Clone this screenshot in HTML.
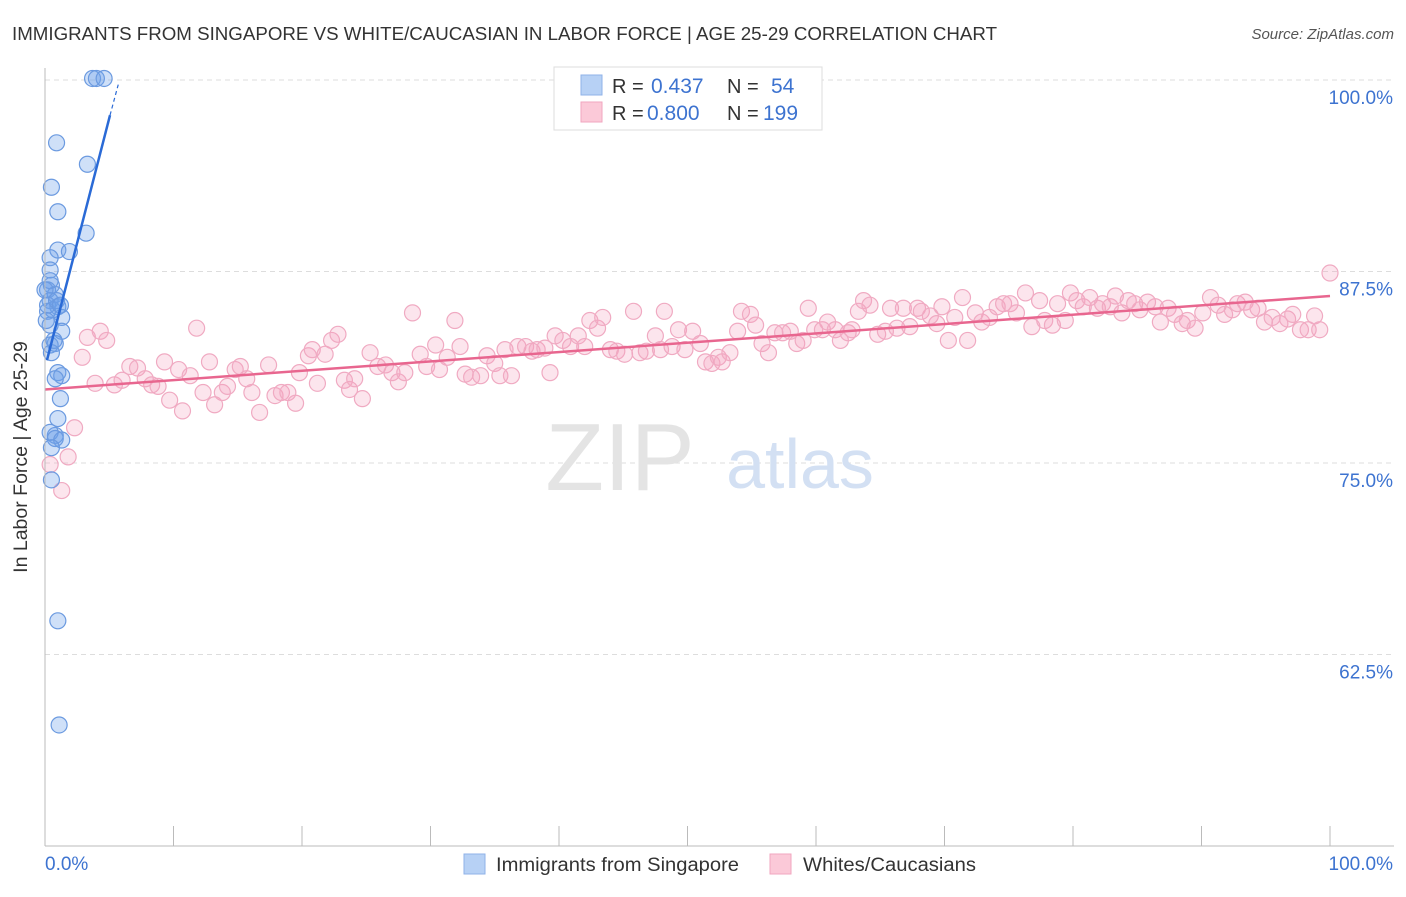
<!DOCTYPE html>
<html><head><meta charset="utf-8"><style>
body{margin:0;background:#fff;font-family:"Liberation Sans",sans-serif}
svg text{font-family:"Liberation Sans",sans-serif}
</style></head><body>
<svg width="1406" height="892" xmlns="http://www.w3.org/2000/svg">
<text x="12" y="40" font-size="18" fill="#333" textLength="985" lengthAdjust="spacingAndGlyphs">IMMIGRANTS FROM SINGAPORE VS WHITE/CAUCASIAN IN LABOR FORCE | AGE 25-29 CORRELATION CHART</text>
<text x="1394" y="39" font-size="15" fill="#555" font-style="italic" text-anchor="end">Source: ZipAtlas.com</text>
<g id="grid"></g>
<text x="620" y="490" font-size="96" fill="#e4e4e4" font-family="Liberation Serif" text-anchor="middle">ZIP</text>
<text x="800" y="488" font-size="70" fill="#d3e0f3" text-anchor="middle">atlas</text>
<g id="pink"></g><g id="blue"></g><g id="trend"></g>
<line x1="45" y1="68" x2="45" y2="846" stroke="#bbb"/>
<line x1="45" y1="846" x2="1394" y2="846" stroke="#bbb"/>
<text x="27" y="457" font-size="19.5" fill="#333" text-anchor="middle" transform="rotate(-90 27 457)">In Labor Force | Age 25-29</text>
<text x="45" y="870" font-size="19" fill="#3d73d0">0.0%</text>
<text x="1393" y="870" font-size="19" fill="#3d73d0" text-anchor="end">100.0%</text>
<g>
<rect x="554" y="67" width="268" height="63" fill="#fff" stroke="#ddd"/>
<rect x="581" y="75" width="21" height="20" fill="#b7d1f5" stroke="#8fb2e8"/>
<rect x="581" y="102" width="21" height="20" fill="#fbc9d8" stroke="#f0a6bf"/>
<text x="612" y="93" font-size="20" fill="#333">R = </text><text x="651" y="93" font-size="21" fill="#3d73d0">0.437</text>
<text x="727" y="93" font-size="20" fill="#333">N = </text><text x="771" y="93" font-size="21" fill="#3d73d0">54</text>
<text x="612" y="120" font-size="20" fill="#333">R = </text><text x="647" y="120" font-size="21" fill="#3d73d0">0.800</text>
<text x="727" y="120" font-size="20" fill="#333">N = </text><text x="763" y="120" font-size="21" fill="#3d73d0">199</text>
</g>
<g>
<rect x="464" y="854" width="21" height="20" fill="#b7d1f5" stroke="#8fb2e8"/>
<text x="496" y="871" font-size="19.7" fill="#333" textLength="243" lengthAdjust="spacingAndGlyphs">Immigrants from Singapore</text>
<rect x="770" y="854" width="21" height="20" fill="#fbc9d8" stroke="#f0a6bf"/>
<text x="803" y="871" font-size="19.7" fill="#333" textLength="173" lengthAdjust="spacingAndGlyphs">Whites/Caucasians</text>
</g>
</svg>
<script>
const yTicks=[100,87.5,75,62.5];
const yTickLabels=["100.0%","87.5%","75.0%","62.5%"];
const xTicks=[0,10,20,30,40,50,60,70,80,90,100];
const blueX=[3.7,4.0,4.6,0.9,3.3,0.5,1.0,3.2,1.0,1.9,0.4,0.4,0.5,0.2,0.8,0.4,1.0,0.2,1.3,0.4,1.3,0.8,0.4,0.5,1.0,1.3,0.8,1.2,1.0,0.8,0.4,0.8,1.3,0.5,0.5,1.0,1.1,0.2,0.6,0.1,0.4,0.9,1.2,0,0.7];
const blueY=[100.1,100.1,100.1,95.9,94.5,93.0,91.4,90.0,88.9,88.8,88.4,87.6,86.6,86.3,86.0,85.6,85.2,84.9,84.5,84.0,83.6,82.8,82.7,82.2,80.9,80.7,80.5,79.2,77.9,76.8,77.0,76.6,76.5,76.0,73.9,64.7,57.9,85.3,85.0,84.3,86.9,85.6,85.3,86.3,83.0];
const pinkX=[0.4,1.3,1.8,2.3,2.9,3.3,3.9,4.3,4.8,5.4,6.0,6.6,7.2,7.8,8.3,8.8,9.3,9.7,10.4,10.7,11.3,11.8,12.3,12.8,13.2,13.8,14.2,14.8,15.2,15.7,16.1,16.7,17.4,17.9,18.4,18.9,19.5,19.8,20.5,20.8,21.2,21.8,22.3,22.8,23.3,23.7,24.1,24.7,25.3,25.9,26.5,27.0,27.5,28.0,28.6,29.2,29.7,30.4,30.7,31.3,31.9,32.3,32.7,33.2,33.9,34.4,35.0,35.4,35.8,36.3,36.8,37.4,37.9,38.3,38.9,39.3,39.7,40.3,40.9,41.5,42.0,42.4,43.0,43.4,44.0,44.5,45.1,45.8,46.3,46.8,47.5,47.9,48.2,48.8,49.3,49.8,50.4,51.0,51.4,51.9,52.4,52.7,53.3,53.9,54.2,54.9,55.3,55.8,56.3,56.8,57.4,58.0,58.5,59.0,59.4,59.9,60.5,60.9,61.5,61.9,62.5,62.8,63.3,63.7,64.2,64.8,65.4,65.8,66.3,66.8,67.3,67.9,68.2,68.9,69.4,69.8,70.3,70.8,71.4,71.8,72.4,72.9,73.5,74.1,74.6,75.1,75.6,76.3,76.8,77.4,77.8,78.4,78.8,79.4,79.8,80.3,80.8,81.3,81.9,82.3,82.9,83.3,83.8,84.3,84.8,85.2,85.8,86.4,86.8,87.4,87.9,88.5,88.9,89.5,90.1,90.7,91.3,91.8,92.4,92.8,93.4,93.9,94.4,94.9,95.5,96.1,96.7,97.1,97.7,98.3,98.8,99.2,100];
const pinkY=[74.9,73.2,75.4,77.3,81.9,83.2,80.2,83.6,83.0,80.1,80.4,81.3,81.2,80.5,80.1,80.0,81.6,79.1,81.1,78.4,80.7,83.8,79.6,81.6,78.8,79.6,80.0,81.1,81.3,80.5,79.6,78.3,81.4,79.4,79.6,79.6,78.9,80.9,82.0,82.4,80.2,82.1,83.0,83.4,80.4,79.8,80.5,79.2,82.2,81.3,81.4,80.9,80.3,80.9,84.8,82.1,81.3,82.7,81.1,81.9,84.3,82.6,80.8,80.6,80.7,82.0,81.5,80.7,82.4,80.7,82.6,82.6,82.3,82.4,82.5,80.9,83.3,83.0,82.6,83.3,82.6,84.3,83.8,84.5,82.4,82.3,82.1,84.9,82.2,82.3,83.3,82.4,84.9,82.6,83.7,82.4,83.6,82.8,81.6,81.5,81.9,81.6,82.2,83.6,84.9,84.7,84.0,82.8,82.2,83.5,83.5,83.6,82.8,83.0,85.1,83.7,83.7,84.2,83.7,83.0,83.5,83.7,84.9,85.6,85.3,83.4,83.6,85.1,83.8,85.1,83.9,85.1,84.9,84.6,84.1,85.2,83.0,84.5,85.8,83.0,84.8,84.2,84.5,85.2,85.4,85.4,84.8,86.1,83.9,85.6,84.3,84.0,85.4,84.3,86.1,85.6,85.2,85.8,85.1,85.4,85.2,85.9,84.8,85.6,85.4,85.0,85.5,85.2,84.2,85.1,84.7,84.1,84.3,83.8,84.8,85.8,85.3,84.7,85.0,85.4,85.5,85.0,85.1,84.2,84.5,84.1,84.4,84.7,83.7,83.7,84.6,83.7,87.4];
const blueTrend=[[0.15,81.7],[5.06,97.7]];
const blueTrendExt=[[5.06,97.7],[5.7,99.7]];
const pinkTrend=[[0,79.8],[100,85.9]];
const NS="http://www.w3.org/2000/svg";
const xs=v=>45+v*12.85;
const ys=v=>80+(100-v)*15.32;
function mk(tag,attrs,parent){const e=document.createElementNS(NS,tag);for(const k in attrs)e.setAttribute(k,attrs[k]);parent.appendChild(e);return e;}
const grid=document.getElementById('grid');
yTicks.forEach((t,i)=>{
 const l=mk('line',{x1:45,x2:1394,y1:ys(t),y2:ys(t),stroke:'#ddd','stroke-dasharray':'5,4'},grid);
 
 
 const tx=mk('text',{x:1393,y:ys(t)+24,'font-size':19,fill:'#3d73d0','text-anchor':'end'},grid);
 tx.textContent=yTickLabels[i];
 
 
});
xTicks.forEach(t=>{
 const l=mk('line',{x1:xs(t),x2:xs(t),y1:826,y2:846,stroke:'#bbb'},grid);
 
 
});
const pg=document.getElementById('pink');
pinkX.forEach((x,i)=>{
 const c=mk('circle',{cx:xs(x),cy:ys(pinkY[i]),r:8,fill:'rgba(245,160,190,0.28)',stroke:'#f0aac2','stroke-width':1.2},pg);
 
 
});
const bg=document.getElementById('blue');
blueX.forEach((x,i)=>{
 const c=mk('circle',{cx:xs(x),cy:ys(blueY[i]),r:8,fill:'rgba(110,160,235,0.33)',stroke:'#6b9ae0','stroke-width':1.2},bg);
 
 
});
const tg=document.getElementById('trend');
const pt=mk('line',{x1:xs(pinkTrend[0][0]),y1:ys(pinkTrend[0][1]),x2:xs(pinkTrend[1][0]),y2:ys(pinkTrend[1][1]),stroke:'#e8668f','stroke-width':2.5},tg);


const bt=mk('line',{x1:xs(blueTrend[0][0]),y1:ys(blueTrend[0][1]),x2:xs(blueTrend[1][0]),y2:ys(blueTrend[1][1]),stroke:'#2a6ad6','stroke-width':2.5},tg);


const be=mk('line',{x1:xs(blueTrendExt[0][0]),y1:ys(blueTrendExt[0][1]),x2:xs(blueTrendExt[1][0]),y2:ys(blueTrendExt[1][1]),stroke:'#2a6ad6','stroke-width':1.2,'stroke-dasharray':'4,3'},tg);


</script>
</body></html>
